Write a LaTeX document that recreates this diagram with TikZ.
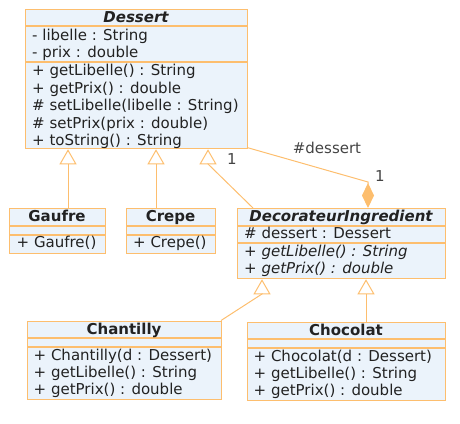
\documentclass[tikz,border=0pt]{standalone}
\usepackage{fontspec}
\setmainfont{DejaVu Sans}
\usetikzlibrary{arrows.meta}
\definecolor{umlborder}{HTML}{FDBE6E}
\definecolor{umlfill}{HTML}{EBF3FB}
\definecolor{umltext}{HTML}{222222}
\definecolor{labeltext}{HTML}{444444}
\begin{document}
\begin{tikzpicture}[x=1pt,y=-1pt,
  font=\fontsize{15}{17}\selectfont,
  box/.style={draw=umlborder, fill=umlfill, line width=1.3pt, rectangle, inner sep=0pt, anchor=north west},
  txt/.style={anchor=base west, inner sep=0pt, text=umltext},
  ttl/.style={anchor=base, inner sep=0pt, text=umltext, font=\fontsize{15}{17}\selectfont\bfseries},
  sep/.style={draw=umlborder, line width=1.3pt},
  inh/.style={draw=umlborder, line width=1pt, -{Triangle[open, length=15pt, width=17pt]}},
  comp/.style={draw=umlborder, line width=1pt, -{Diamond[length=25pt, width=12pt, fill=umlborder]}},
  lbl/.style={text=labeltext, inner sep=0pt, anchor=base}]
\useasboundingbox (0,0) rectangle (460,423);

% Dessert
\node[box, minimum width=222pt, minimum height=139pt] (dessert) at (25,9) {};
\draw[sep] (25,26) -- (247,26);
\draw[sep] (25,62) -- (247,62);
\node[ttl] (dessertT) at (136,22) {\itshape Dessert};
\node[txt] (d1) at (32,40) {- libelle : String};
\node[txt] (d2) at (32,57.5) {- prix : double};
\node[txt] (d3) at (32,75.5) {+ getLibelle() : String};
\node[txt] (d4) at (32,93) {+ getPrix() : double};
\node[txt] (d5) at (32,110.5) {\# setLibelle(libelle : String)};
\node[txt] (d6) at (32,128) {\# setPrix(prix : double)};
\node[txt] (d7) at (32,145.5) {+ toString() : String};

% Gaufre
\node[box, minimum width=96pt, minimum height=45pt] (gaufre) at (9,208) {};
\draw[sep] (9,226) -- (105,226);
\draw[sep] (9,235) -- (105,235);
\node[ttl] (gaufreT) at (57,221.5) {Gaufre};
\node[txt] (g1) at (16.5,247.5) {+ Gaufre()};

% Crepe
\node[box, minimum width=89pt, minimum height=45pt] (crepe) at (126,208) {};
\draw[sep] (126,226) -- (215,226);
\draw[sep] (126,235) -- (215,235);
\node[ttl] (crepeT) at (170.5,221.5) {Crepe};
\node[txt] (c1) at (133,247.5) {+ Crepe()};

% DecorateurIngredient
\node[box, minimum width=208pt, minimum height=70pt] (deco) at (237,208) {};
\draw[sep] (237,226) -- (445,226);
\draw[sep] (237,243) -- (445,243);
\node[ttl] (decoT) at (341,221.5) {\itshape DecorateurIngredient};
\node[txt] (e1) at (244,238.5) {\# dessert : Dessert};
\node[txt] (e2) at (244,256.5) {+ \textit{getLibelle() : String}};
\node[txt] (e3) at (244,273) {+ \textit{getPrix() : double}};

% Chantilly
\node[box, minimum width=194pt, minimum height=78pt] (chant) at (27,321) {};
\draw[sep] (27,338) -- (221,338);
\draw[sep] (27,347) -- (221,347);
\node[ttl] (chantT) at (124,334) {Chantilly};
\node[txt] (h1) at (33.5,360.5) {+ Chantilly(d : Dessert)};
\node[txt] (h2) at (33.5,377.5) {+ getLibelle() : String};
\node[txt] (h3) at (33.5,394.5) {+ getPrix() : double};

% Chocolat
\node[box, minimum width=198pt, minimum height=78pt] (choco) at (247,322) {};
\draw[sep] (247,339) -- (445,339);
\draw[sep] (247,348) -- (445,348);
\node[ttl] (chocoT) at (346,335) {Chocolat};
\node[txt] (k1) at (253.5,361.5) {+ Chocolat(d : Dessert)};
\node[txt] (k2) at (253.5,378.5) {+ getLibelle() : String};
\node[txt] (k3) at (253.5,395.5) {+ getPrix() : double};

% connector end points
\coordinate (gTip) at (gaufre.north -| 68,0);
\coordinate (gUp) at (dessert.south -| 68,0);
\coordinate (cTip) at (crepe.north -| 156,0);
\coordinate (cUp) at (dessert.south -| 156,0);
\coordinate (eFoot) at (253,208);
\coordinate (eBend) at (208,164);
\coordinate (eUp) at (dessert.south -| 208,0);
\coordinate (aStart) at (247,147.5);
\coordinate (aBend) at (368,182);
\coordinate (aEnd) at (deco.north -| 368,0);
\coordinate (hFoot) at (221,320.5);
\coordinate (hBend) at (262,294);
\coordinate (hUp) at (deco.south -| 262,0);
\coordinate (kFoot) at (choco.north -| 366,0);
\coordinate (kUp) at (deco.south -| 366,0);

\draw[inh] (gTip) -- (gUp);
\draw[inh] (cTip) -- (cUp);
\draw[inh] (eFoot) -- (eBend) -- (eUp);
\draw[inh] (hFoot) -- (hBend) -- (hUp);
\draw[inh] (kFoot) -- (kUp);
\draw[comp] (aStart) -- (aBend) -- (aEnd);

\node[lbl] (assoc) at (327,153) {\#dessert};
\node[lbl] (m1) at (232,164) {1};
\node[lbl] (m2) at (380,181) {1};
\end{tikzpicture}
\end{document}
